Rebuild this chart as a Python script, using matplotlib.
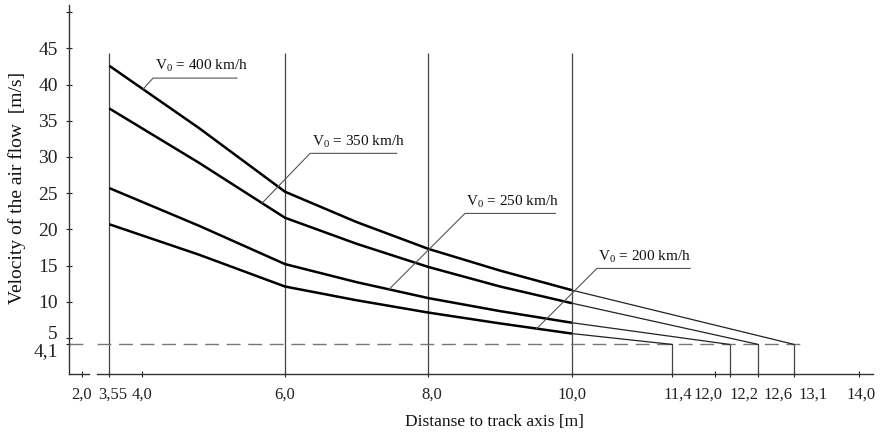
import numpy as np
import matplotlib
matplotlib.use('Agg')
from matplotlib import pyplot as plt
from matplotlib import transforms

plt.rcParams['font.family'] = ['Liberation Serif', 'DejaVu Serif']
plt.rcParams['mathtext.fontset'] = 'custom'
plt.rcParams['mathtext.rm'] = 'Liberation Serif'

# distances where the curves were read [m]
dist = [3.55, 4.8, 6.0, 7.0, 8.0, 9.0, 10.0]
# air flow velocity [m/s] for each train speed
v400 = [42.6, 34.0, 25.2, 21.0, 17.3, 14.3, 11.6]
v350 = [36.7, 29.2, 21.6, 18.0, 14.8, 12.1, 9.8]
v250 = [25.7, 20.5, 15.2, 12.7, 10.5, 8.7, 7.1]
v200 = [20.7, 16.5, 12.1, 10.2, 8.5, 7.0, 5.6]
speeds = ['400', '350', '250', '200']
curves = [v400, v350, v250, v200]

# limit velocity and where each curve reaches it
limit_v = 4.1
limit_dist = [13.1, 12.6, 12.2, 11.4]

grid_x = [3.55, 6.0, 8.0, 10.0]
grid_top = 44.3

xticks = [3.55, 4.0, 6.0, 8.0, 10.0, 11.4, 12.0, 12.2, 12.6, 13.1, 14.0]
xticklabels = ['3,55', '4,0', '6,0', '8,0', '10,0', '11,4', '12,0', '12,2', '12,6', '13,1', '14,0']
yticks = [4.1, 5, 10, 15, 20, 25, 30, 35, 40, 45, 50]
yticklabels = ['4,1', '5', '10', '15', '20', '25', '30', '35', '40', '45', '']

# layout of the labels (underline start, length) and leader targets
label_pos = [(4.16, 40.9), (6.35, 30.5), (8.51, 22.2), (10.35, 14.6)]
label_len = [1.17, 1.21, 1.26, 1.30]
leader_x = [4.02, 5.68, 7.45, 9.51]
# shift of crowded tick labels, px
xlab_dx = [3, 0, 0, 3, 0, 6, -7, 14, 20, 19, 2]

W, H = 883, 433
fig = plt.figure(figsize=(W / 100, H / 100), dpi=100)
y0 = 1 - 374.1 / H
y1 = 1 - 5 / H
axl = fig.add_axes([69 / W, y0, (88.5 - 69) / W, y1 - y0])
ax = fig.add_axes([97 / W, y0, (873 - 97) / W, y1 - y0], sharey=axl)

axis_c = '#333333'
for a in (axl, ax):
    a.set_ylim(0, 51)
    for s in a.spines.values():
        s.set_visible(False)
    a.spines['bottom'].set_visible(True)
    a.spines['bottom'].set_color(axis_c)
    a.spines['bottom'].set_linewidth(1.0)
    a.patch.set_alpha(0)

axl.set_xlim(1.82, 2.09)
ax.set_xlim(3.378, 14.2)

axl.spines['left'].set_visible(True)
axl.spines['left'].set_color(axis_c)
axl.spines['left'].set_linewidth(1.0)
axl.set_yticks(yticks, yticklabels)
axl.tick_params(axis='y', direction='inout', length=4, width=0.8, pad=6,
                labelsize=14, colors='#222222')
axl.set_xticks([2.0], ['2,0'])
axl.tick_params(axis='x', direction='inout', length=4, width=0.8, pad=7,
                labelsize=12, colors='#222222')

# nudge the 5 and 4,1 labels apart
ylabs = axl.get_yticklabels()
ylabs[0].set_transform(ylabs[0].get_transform() + transforms.ScaledTranslation(0, -0.05, fig.dpi_scale_trans))
ylabs[1].set_transform(ylabs[1].get_transform() + transforms.ScaledTranslation(0, 0.05, fig.dpi_scale_trans))

ax.tick_params(axis='y', left=False, labelleft=False)
ax.set_xticks(xticks, xticklabels)
ax.tick_params(axis='x', direction='inout', length=4, width=0.8, pad=7,
               labelsize=12, colors='#222222')
for lab, dx in zip(ax.get_xticklabels(), xlab_dx):
    lab.set_transform(lab.get_transform() + transforms.ScaledTranslation(dx / 100, 0, fig.dpi_scale_trans))

# vertical guide lines
ax.vlines(grid_x, 0, grid_top, color='#444444', lw=0.9)
ax.vlines(limit_dist, 0, limit_v, color='#444444', lw=0.9)

# limit velocity
dash = (10, 5.5)
axl.axhline(limit_v, color='#777777', lw=1.0, dashes=dash)
ax.plot([ax.get_xlim()[0], max(limit_dist) + 0.12], [limit_v, limit_v],
        color='#777777', lw=1.0, dashes=dash)

for sp, v, xe in zip(speeds, curves, limit_dist):
    ax.plot(dist, v, color='black', lw=1.8, solid_joinstyle='round', solid_capstyle='butt')
    ax.plot([dist[-1], xe], [v[-1], limit_v], color='#222222', lw=0.9)

for sp, v, (lx, ly), ln, tx in zip(speeds, curves, label_pos, label_len, leader_x):
    ty = np.interp(tx, dist, v)
    ax.plot([tx, lx, lx + ln], [ty, ly, ly], color='#555555', lw=0.8)
    ax.text(lx + 0.02, ly + 0.5, r'V$_\mathrm{0}$ = ' + sp + ' km/h', fontsize=11,
            ha='left', va='bottom', color='#111111')

fig.text(17 / W, 1 - 188 / H, 'Velocity of the air flow  [m/s]', rotation=90,
         ha='center', va='center', fontsize=14, color='#111111')
fig.text(494 / W, 1 - 422 / H, 'Distanse to track axis [m]', ha='center', va='center',
         fontsize=12.5, color='#111111')

fig.savefig('out.png', dpi=100)
